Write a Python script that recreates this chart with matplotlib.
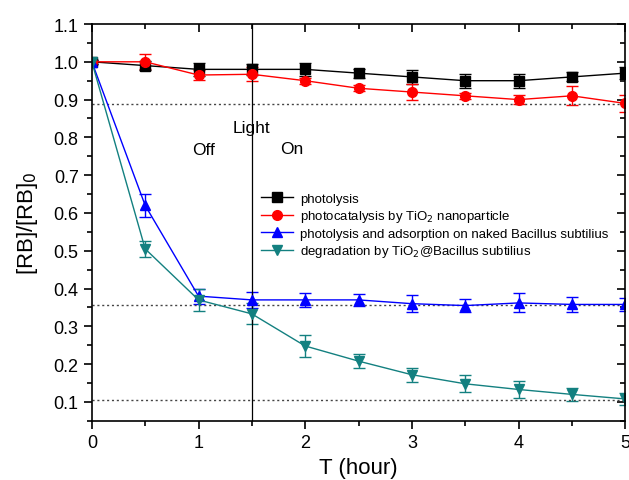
import numpy as np
import matplotlib.pyplot as plt
from matplotlib.ticker import MultipleLocator
from matplotlib.lines import Line2D

plt.rcParams['font.family'] = ['Liberation Sans', 'DejaVu Sans']

# время, ч
t = [0, 0.5, 1, 1.5, 2, 2.5, 3, 3.5, 4, 4.5, 5]

photolysis = [1.0, 0.99, 0.98, 0.98, 0.98, 0.97, 0.96, 0.95, 0.95, 0.96, 0.97]
photolysis_err = [0.005, 0.012, 0.018, 0.015, 0.018, 0.012, 0.018, 0.018, 0.018, 0.012, 0.015]

tio2 = [1.0, 1.0, 0.965, 0.967, 0.95, 0.93, 0.92, 0.91, 0.90, 0.91, 0.89]
tio2_err = [0.005, 0.02, 0.012, 0.018, 0.008, 0.008, 0.02, 0.008, 0.012, 0.025, 0.022]

bacillus = [1.0, 0.62, 0.38, 0.37, 0.37, 0.37, 0.36, 0.355, 0.362, 0.358, 0.358]
bacillus_err = [0.005, 0.03, 0.02, 0.022, 0.018, 0.016, 0.022, 0.018, 0.025, 0.02, 0.018]

composite = [1.0, 0.505, 0.37, 0.333, 0.248, 0.208, 0.172, 0.148, 0.133, 0.12, 0.108]
composite_err = [0.005, 0.022, 0.03, 0.028, 0.03, 0.018, 0.018, 0.022, 0.022, 0.018, 0.015]

ref_levels = [0.888, 0.357, 0.106]
light_on = 1.5

fig = plt.figure(figsize=(6.29, 4.81), dpi=100)
ax = fig.add_axes([0.146, 0.123, 0.848, 0.825])

series = [
    (photolysis, photolysis_err, 'black', 's', 'photolysis'),
    (tio2, tio2_err, 'red', 'o', 'photocatalysis by TiO$_2$ nanoparticle'),
    (bacillus, bacillus_err, 'blue', '^', 'photolysis and adsorption on naked Bacillus subtilius'),
    (composite, composite_err, '#138080', 'v', 'degradation by TiO$_2$@Bacillus subtilius'),
]
handles = []
for y, err, c, m, lab in series:
    ax.errorbar(t, y, yerr=err, color=c, marker=m, markersize=7, linewidth=1,
                elinewidth=1, capsize=4, capthick=1)
    handles.append(Line2D([], [], color=c, marker=m, markersize=7, linewidth=1, label=lab))

for lvl in ref_levels:
    ax.axhline(lvl, color='#444444', linestyle=(0, (1.5, 2)), linewidth=1)
ax.axvline(light_on, color='black', linewidth=0.9)

ax.text(1.5, 0.815, 'Light', fontsize=12.5, ha='center')
ax.text(1.05, 0.755, 'Off', fontsize=12.5, ha='center')
ax.text(1.87, 0.76, 'On', fontsize=12.5, ha='center')

ax.set_xlim(0, 5)
ax.set_ylim(0.05, 1.1)
ax.xaxis.set_major_locator(MultipleLocator(1))
ax.xaxis.set_minor_locator(MultipleLocator(0.5))
ax.yaxis.set_minor_locator(MultipleLocator(0.05))
ax.set_yticks(np.arange(0.1, 1.15, 0.1))
ax.set_yticklabels([f'{v:.1f}' for v in np.arange(0.1, 1.15, 0.1)])
ax.tick_params(which='both', direction='out', top=True, right=True, labelsize=13, width=1.2)
ax.tick_params(which='major', length=6)
ax.tick_params(which='minor', length=3.5)
# верх и правый край - внутрь
for tk in ax.xaxis.get_major_ticks() + ax.xaxis.get_minor_ticks():
    tk.tick2line.set_marker(3)
for tk in ax.yaxis.get_major_ticks() + ax.yaxis.get_minor_ticks():
    tk.tick2line.set_marker(0)
for s in ax.spines.values():
    s.set_linewidth(1.2)

ax.set_xlabel('T (hour)', fontsize=16, labelpad=4)
ax.set_ylabel('[RB]/[RB]$_0$', fontsize=16, labelpad=10)

ax.legend(handles=handles, loc='upper left', bbox_to_anchor=(0.307, 0.588), frameon=False,
          fontsize=9.5, handlelength=2.4, borderaxespad=0, labelspacing=0.25, handletextpad=0.6)

fig.savefig('out.png', dpi=100)
